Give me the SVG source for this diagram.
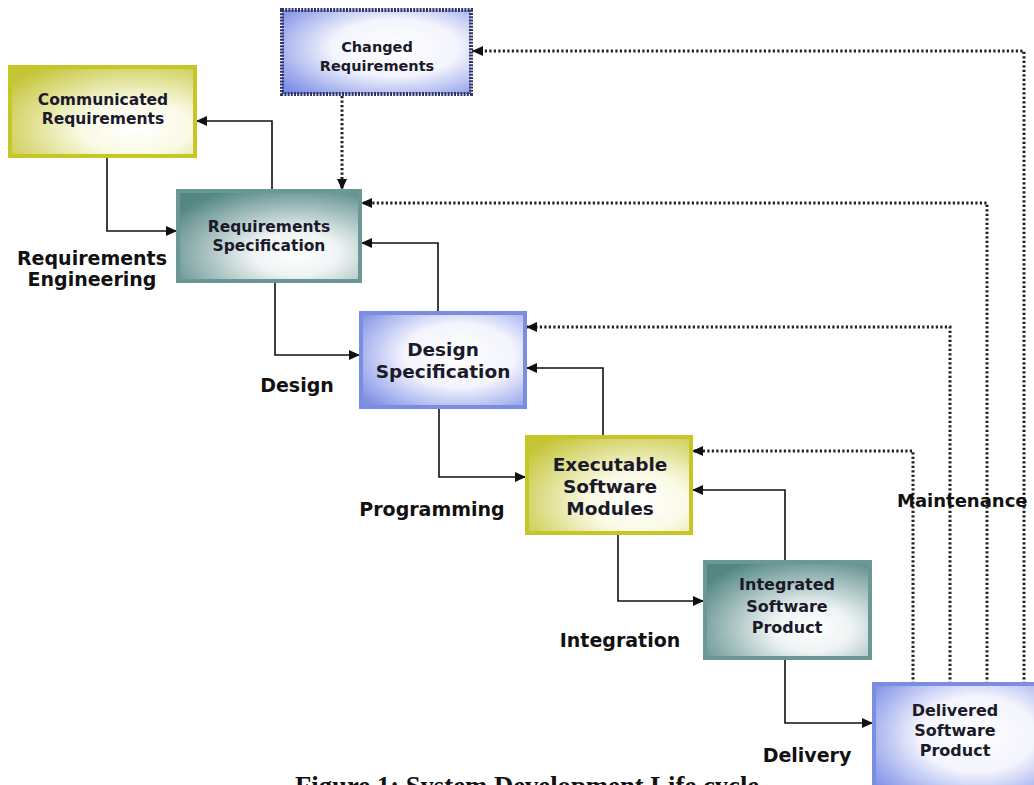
<svg xmlns="http://www.w3.org/2000/svg" width="1034" height="785" viewBox="0 0 1034 785">
<style>
.box text, text{font-family:"DejaVu Sans","Verdana",sans-serif;font-weight:bold;fill:#1a1a2a;text-anchor:middle}
.s145{font-size:14.5px}.s155{font-size:15.5px}.s16{font-size:16px}.s185{font-size:18.5px}
.lbl{font-size:19px;fill:#111}
.bBlue{fill:url(#gBlue);stroke:#7b8de0;stroke-width:4}
.bTeal{fill:url(#gTeal);stroke:#6b9894;stroke-width:4}
.bYel{fill:url(#gYel);stroke:#c6c626;stroke-width:4}
.bChg{fill:url(#gBlue);stroke:#2f3468;stroke-width:4;stroke-dasharray:2 1.2}
.solid{fill:none;stroke:#111;stroke-width:1.6;marker-end:url(#ah)}
.dot{fill:none;stroke:#222;stroke-width:3;stroke-dasharray:2.2 2.3;marker-end:url(#ah)}
.cap{font-family:"Liberation Serif","Times New Roman",serif;font-size:26.7px;text-anchor:start;fill:#111}
</style>
<defs>
<radialGradient id="gBlue" cx="0.6" cy="0.45" r="0.75">
<stop offset="0" stop-color="#ffffff"/><stop offset="0.45" stop-color="#f3f4fd"/><stop offset="1" stop-color="#7d8fe6"/>
</radialGradient>
<radialGradient id="gTeal" cx="0.65" cy="0.7" r="0.8">
<stop offset="0" stop-color="#ffffff"/><stop offset="0.3" stop-color="#eef3f3"/><stop offset="1" stop-color="#538784"/>
</radialGradient>
<radialGradient id="gYel" cx="0.68" cy="0.68" r="0.85">
<stop offset="0" stop-color="#ffffff"/><stop offset="0.35" stop-color="#fafae6"/><stop offset="1" stop-color="#c4c436"/>
</radialGradient>
<marker id="ah" markerWidth="11" markerHeight="10" refX="11" refY="5" orient="auto" markerUnits="userSpaceOnUse">
<path d="M0,0 L11,5 L0,10 z" fill="#111"/>
</marker>
</defs>
<rect width="1034" height="785" fill="#ffffff"/>
<g id="connectors">
<path class="solid" d="M272 191 V121 H196"/>
<path class="solid" d="M107 156 V231 H177"/>
<path class="solid" d="M275 281 V355 H360"/>
<path class="solid" d="M438 313 V243 H361"/>
<path class="solid" d="M439 407 V477 H526"/>
<path class="solid" d="M603 437 V368 H526"/>
<path class="solid" d="M618 533 V601 H704"/>
<path class="solid" d="M785 562 V490 H692"/>
<path class="solid" d="M785 658 V723 H873"/>
<path class="dot" d="M342 96 V190"/>
<path class="dot" d="M1024 684 V51 H472"/>
<path class="dot" d="M987 684 V203 H361"/>
<path class="dot" d="M950 684 V327 H526"/>
<path class="dot" d="M913 684 V451 H692"/>
</g>
<g id="changed" class="box">
<rect class="bChg" x="282" y="10" width="189" height="84"/>
<text class="s145" x="377" y="52">Changed</text>
<text class="s145" x="377" y="71">Requirements</text>
</g>
<g id="communicated" class="box">
<rect class="bYel" x="10" y="67" width="185" height="89"/>
<text class="s155" x="103" y="105">Communicated</text>
<text class="s155" x="103" y="124">Requirements</text>
</g>
<g id="reqspec" class="box">
<rect class="bTeal" x="178" y="191" width="182" height="90"/>
<text class="s155" x="269" y="232">Requirements</text>
<text class="s155" x="269" y="251">Specification</text>
</g>
<g id="designspec" class="box">
<rect class="bBlue" x="361" y="313" width="164" height="94"/>
<text class="s185" x="443" y="356">Design</text>
<text class="s185" x="443" y="378">Specification</text>
</g>
<g id="executable" class="box">
<rect class="bYel" x="527" y="437" width="164" height="96"/>
<text class="s185" x="610" y="471">Executable</text>
<text class="s185" x="610" y="493">Software</text>
<text class="s185" x="610" y="515">Modules</text>
</g>
<g id="integrated" class="box">
<rect class="bTeal" x="705" y="562" width="165" height="96"/>
<text class="s16" x="787" y="590">Integrated</text>
<text class="s16" x="787" y="612">Software</text>
<text class="s16" x="787" y="633">Product</text>
</g>
<g id="delivered" class="box">
<rect class="bBlue" x="874" y="684" width="172" height="112"/>
<text class="s16" x="955" y="716">Delivered</text>
<text class="s16" x="955" y="736">Software</text>
<text class="s16" x="955" y="756">Product</text>
</g>
<g id="labels">
<text class="lbl" x="92" y="265">Requirements</text>
<text class="lbl" x="92" y="286">Engineering</text>
<text class="lbl" x="297" y="392">Design</text>
<text class="lbl" x="432" y="516">Programming</text>
<text class="lbl" x="620" y="647">Integration</text>
<text class="lbl" x="807" y="762">Delivery</text>
<text class="lbl" x="897" y="507" style="text-anchor:start;font-size:18px">Maintenance</text>
<text class="cap" x="295" y="795">Figure 1: System Development Life cycle</text>
</g>
</svg>
